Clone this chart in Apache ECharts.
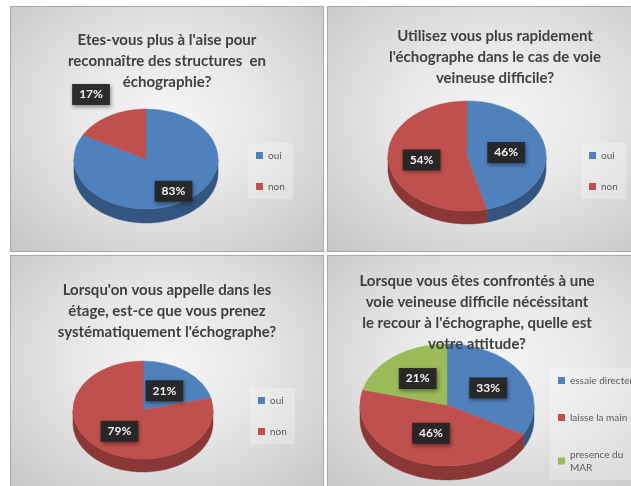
<!DOCTYPE html>
<html>
<head>
<meta charset="utf-8">
<title>Questionnaire échographie</title>
<script src="https://cdn.jsdelivr.net/npm/echarts@6/dist/echarts.min.js"></script>
<style>
    html, body { margin: 0; padding: 0; background: #fff; width: 631px; height: 486px; overflow: hidden; position: relative; }
    .panel {
        position: absolute;
        box-sizing: border-box;
        border: 1px solid #a8a8a8;
        background: radial-gradient(ellipse 72% 75% at 50% 45%, #f5f5f5 0%, #e8e8e8 40%, #c6c6c6 100%);
    }
</style>
</head>
<body>
<div id="p1" class="panel" style="left:10px;top:6px;width:314px;height:246px"></div>
<div id="p2" class="panel" style="left:327px;top:6px;width:340px;height:246px"></div>
<div id="p3" class="panel" style="left:10px;top:255px;width:314px;height:240px"></div>
<div id="p4" class="panel" style="left:327px;top:255px;width:340px;height:240px"></div>
<script>
'use strict';

// question 1
var titre1 = ["Etes-vous plus à l'aise pour", "reconnaître des structures  en", "échographie?"];
var categories1 = ['oui', 'non'];
var valeurs1 = [83, 17];

// question 2
var titre2 = ["Utilisez vous plus rapidement", "l'échographe dans le cas de voie", "veineuse difficile?"];
var categories2 = ['oui', 'non'];
var valeurs2 = [46, 54];

// question 3
var titre3 = ["Lorsqu'on vous appelle dans les", "étage, est-ce que vous prenez", "systématiquement l'échographe?"];
var categories3 = ['oui', 'non'];
var valeurs3 = [21, 79];

// question 4
var titre4 = ["Lorsque vous êtes confrontés à une", "voie veineuse difficile nécéssitant", "le recour à l'échographe, quelle est", "votre attitude?"];
var categories4 = ['essaie directement', 'laisse la main', 'presence du\nMAR'];
var valeurs4 = [33, 46, 21];

var bleu = { face: '#4f81bd', cote: '#34557f' };
var rouge = { face: '#c0504d', cote: '#8a3735' };
var vert = { face: '#9bbb59', cote: '#6d8a3a' };

// pie "3D" : face du dessus aplatie + flanc avant
function camembert3d(id, titre, categories, valeurs, couleurs, cfg) {
    var chart = echarts.init(document.getElementById(id));
    var total = valeurs.reduce(function(a, b) { return a + b; }, 0);
    var cumul = [];
    var acc = 0;
    valeurs.forEach(function(v) {
        cumul.push(acc);
        acc += v;
    });

    var series = categories.map(function(nom, i) {
        return {
            type: 'custom',
            name: nom,
            coordinateSystem: 'none',
            itemStyle: { color: couleurs[i].face },
            data: [valeurs[i]],
            renderItem: function(params, api) {
                var v = api.value(0);
                var a0 = -Math.PI / 2 + 2 * Math.PI * cumul[i] / total;
                var a1 = a0 + 2 * Math.PI * v / total;
                var cx = cfg.cx, cy = cfg.cy, rx = cfg.rx, ry = cfg.ry, h = cfg.h;
                var children = [];

                // flanc visible (moitie avant de l'ellipse)
                var b0 = Math.max(a0, 0);
                var b1 = Math.min(a1, Math.PI);
                if (b1 > b0) {
                    var pts = [];
                    var n = 48, j, t;
                    for (j = 0; j <= n; j++) {
                        t = b0 + (b1 - b0) * j / n;
                        pts.push([cx + rx * Math.cos(t), cy + ry * Math.sin(t)]);
                    }
                    for (j = n; j >= 0; j--) {
                        t = b0 + (b1 - b0) * j / n;
                        pts.push([cx + rx * Math.cos(t), cy + ry * Math.sin(t) + h]);
                    }
                    children.push({
                        type: 'polygon',
                        shape: { points: pts },
                        style: { fill: couleurs[i].cote, stroke: couleurs[i].cote, lineWidth: 0.5 },
                        z2: 1
                    });
                }

                // face du dessus
                children.push({
                    type: 'sector',
                    x: cx,
                    y: cy,
                    scaleY: ry / rx,
                    shape: { cx: 0, cy: 0, r: rx, r0: 0, startAngle: a0, endAngle: a1, clockwise: true },
                    style: { fill: couleurs[i].face, stroke: couleurs[i].face, lineWidth: 0.6 },
                    z2: 5
                });

                // etiquette
                var mid = (a0 + a1) / 2;
                var k = cfg.etiq[i];
                children.push({
                    type: 'text',
                    x: cx + rx * k * Math.cos(mid),
                    y: cy + ry * k * Math.sin(mid),
                    style: {
                        text: Math.round(100 * v / total) + '%',
                        fill: '#f4f4f4',
                        fontFamily: 'Lato',
                        fontWeight: 'bold',
                        fontSize: 12,
                        align: 'center',
                        verticalAlign: 'middle',
                        backgroundColor: 'rgba(38,38,38,0.95)',
                        padding: [5, 7, 4, 7],
                        shadowBlur: 4,
                        shadowColor: 'rgba(0,0,0,0.45)',
                        shadowOffsetX: 1,
                        shadowOffsetY: 2
                    },
                    z2: 10
                });

                return { type: 'group', children: children };
            }
        };
    });

    var option = {
        animation: false,
        color: couleurs.map(function(c) { return c.face; }),
        title: {
            text: titre.join('\n'),
            left: cfg.titreX - 5,
            top: cfg.titreY,
            textAlign: 'center',
            textStyle: {
                fontFamily: 'Lato',
                fontWeight: 'bold',
                fontSize: 15,
                lineHeight: 21,
                color: '#404040'
            }
        },
        legend: {
            orient: 'vertical',
            left: cfg.legX,
            top: cfg.legY,
            height: 160,
            itemWidth: 7,
            itemHeight: 7,
            icon: 'rect',
            itemGap: cfg.legGap,
            selectedMode: false,
            backgroundColor: 'rgba(255,255,255,0.25)',
            padding: [6, 8, 6, 8],
            textStyle: { color: '#595959', fontSize: 10, fontFamily: 'Lato', lineHeight: 13 }
        },
        series: series
    };
    chart.setOption(option);
    return chart;
}

camembert3d('p1', titre1, categories1, valeurs1, [bleu, rouge], {
    cx: 135, cy: 152, rx: 72, ry: 50, h: 14, etiq: [0.75, 1.5],
    titreX: 156, titreY: 18, legX: 237, legY: 136, legGap: 18
});
camembert3d('p2', titre2, categories2, valeurs2, [bleu, rouge], {
    cx: 139, cy: 149, rx: 79, ry: 55, h: 13, etiq: [0.5, 0.58],
    titreX: 167, titreY: 14, legX: 253, legY: 136, legGap: 18
});
camembert3d('p3', titre3, categories3, valeurs3, [bleu, rouge], {
    cx: 132, cy: 154, rx: 70, ry: 49, h: 13, etiq: [0.5, 0.55],
    titreX: 156, titreY: 19, legX: 239, legY: 132, legGap: 18
});
camembert3d('p4', titre4, categories4, valeurs4, [bleu, rouge, vert], {
    cx: 119, cy: 149, rx: 87, ry: 61, h: 14, etiq: [0.55, 0.5, 0.55],
    titreX: 149, titreY: 10, legX: 222, legY: 112, legGap: 24
});
</script>
</body>
</html>
